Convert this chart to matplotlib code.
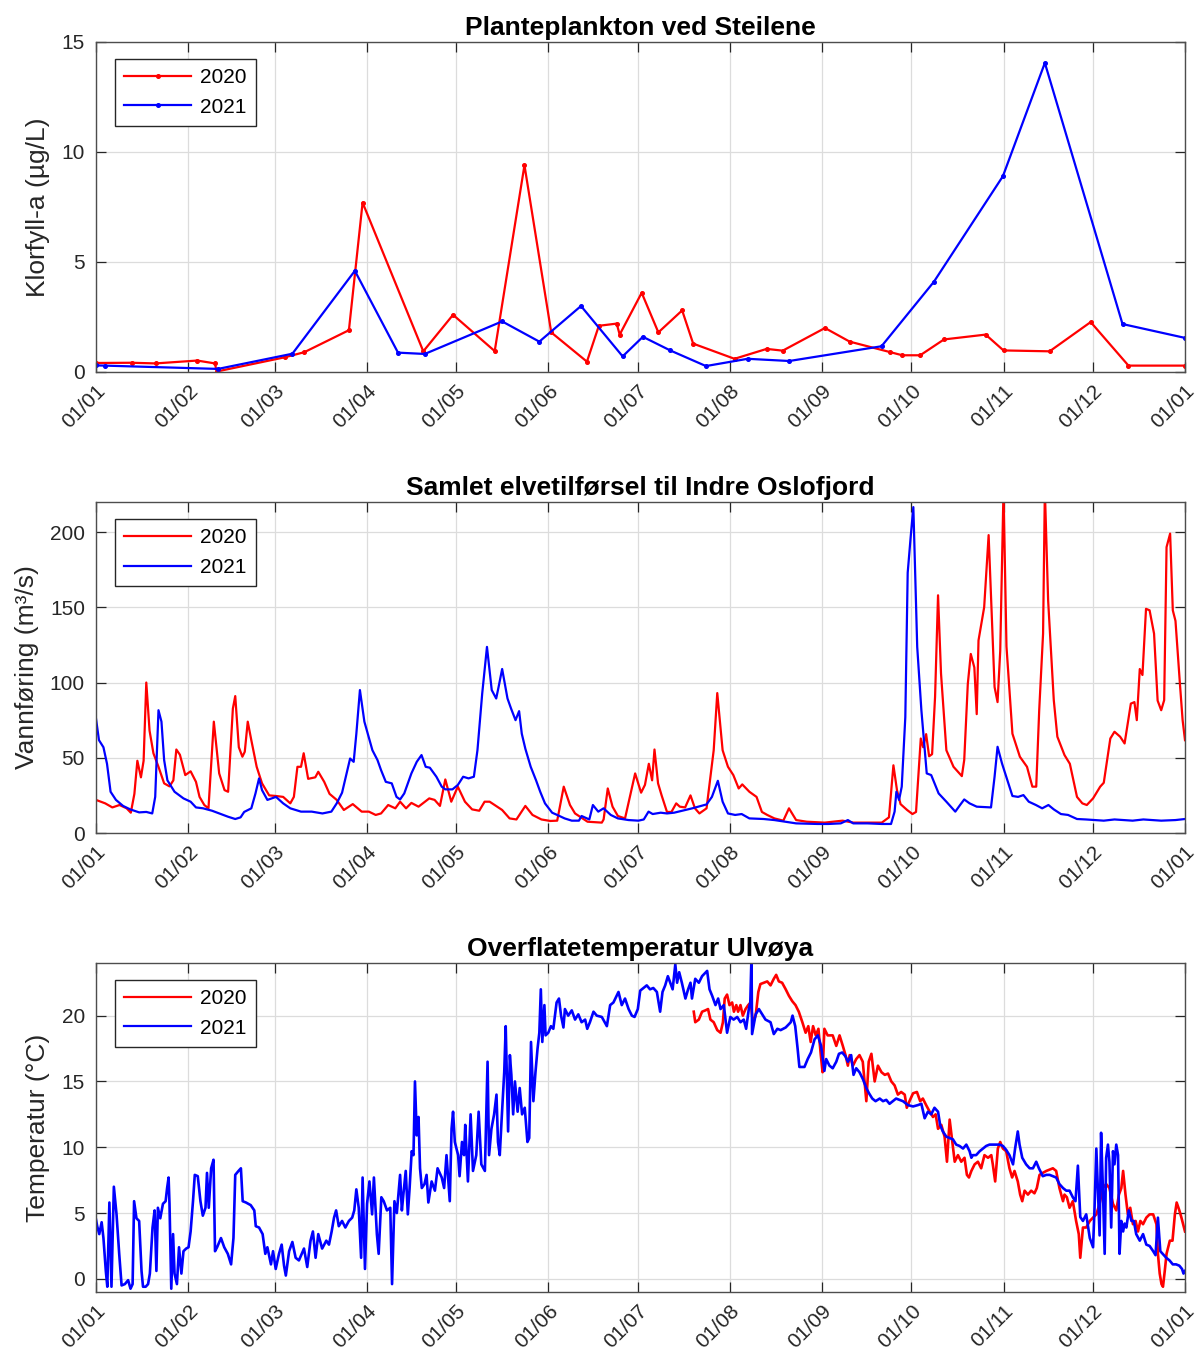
import numpy as np
import pandas as pd
import matplotlib
matplotlib.use("Agg")
import matplotlib.pyplot as plt

plt.rcParams['font.family'] = ['Liberation Sans', 'DejaVu Sans']

# ---------------------------------------------------------------
# Data: x values are days after 1 January, y values per panel
# ---------------------------------------------------------------
years = ['2020', '2021']

# Klorofyll-a, Steilene (µg/L)
chl_2020_day = [0, 12, 20, 34, 40, 40.5, 63.5, 70, 85, 89.6, 110, 120, 134, 144,
                153, 165, 169, 175, 176, 183.4, 189, 197, 200.7, 214.6, 225.4,
                230.8, 245, 253.3, 267, 271, 277, 285, 299, 305, 320.5, 334.3,
                347, 366]
chl_2020 = [0.41, 0.42, 0.39, 0.52, 0.39, 0.02, 0.67, 0.9, 1.9, 7.7, 0.94, 2.6,
            0.95, 9.4, 1.8, 0.47, 2.1, 2.2, 1.7, 3.6, 1.8, 2.8, 1.29, 0.6, 1.05,
            0.97, 2.0, 1.38, 0.9, 0.76, 0.76, 1.48, 1.7, 0.98, 0.94, 2.27,
            0.29, 0.29]
chl_2021_day = [0, 3, 41, 66, 87, 101.5, 110.5, 136.5, 149, 163, 177, 183.8, 193,
                205, 219, 233, 264, 281.6, 304.8, 318.9, 345, 366]
chl_2021 = [0.3, 0.29, 0.14, 0.83, 4.6, 0.88, 0.82, 2.3, 1.38, 3.0, 0.71, 1.6,
            0.98, 0.27, 0.6, 0.5, 1.17, 4.1, 8.9, 14.05, 2.18, 1.55]

# Samlet elvetilførsel (m³/s)
flow_2020_day = [0, 3.1, 5.5, 7.9, 10.3, 11.7, 12.9, 13.9, 15.1, 16, 16.9, 18, 19.3,
                 21, 22.9, 24.7, 26, 27, 28.2, 30, 31.8, 33.6, 34.8, 36.4, 37.8,
                 39.6, 41.4, 43.2, 44.4, 46, 46.8, 48, 49.2, 50, 51, 52.2, 54,
                 55.8, 58.2, 60.5, 62.9, 65.3, 66.5, 67.7, 68.9, 69.8, 71.3, 73.7,
                 74.7, 76.7, 78.5, 80.9, 83.3, 86.3, 89.3, 91.7, 94, 95.8, 98.2,
                 100.6, 102.2, 104.2, 106, 108.4, 112, 113.8, 115.6, 117.4, 119.4,
                 121.6, 124, 126.4, 128.8, 130.6, 132.3, 136.5, 139, 141.3, 144.3,
                 146.7, 149.7, 152.7, 155, 157.2, 159.3, 161, 163.5, 165.2, 170,
                 170.6, 172, 173.6, 175.4, 177.8, 181.2, 183.2, 184.5, 185.8,
                 186.9, 187.7, 188.9, 190.1, 191.9, 193.4, 195, 196.2, 198, 199.8,
                 201.3, 202.8, 205.2, 207.6, 208.8, 210.6, 212.4, 214.2, 216,
                 217.2, 219.6, 222, 223.8, 225.6, 228, 231, 232.9, 235.3, 238.9,
                 244.9, 250.9, 254.5, 264.1, 266.5, 268, 269.2, 270.4, 272.6,
                 274.4, 275.6, 277.2, 278, 279, 280, 281, 282, 283, 284, 285.8,
                 288.2, 291, 291.8, 293, 294, 295.2, 296, 296.6, 298.5, 300, 301.3,
                 302, 303, 303.9, 305, 306, 308, 310.5, 312.9, 314.7, 316, 317,
                 318.3, 318.9, 320, 321.9, 323.1, 325.5, 327.3, 329.7, 331.5, 333,
                 335.1, 337.5, 338.7, 340.9, 342.3, 344.2, 345.7, 347.8, 349,
                 349.8, 350.8, 351.7, 352.9, 354.1, 355.6, 356.8, 358, 359, 359.8,
                 361, 361.9, 362.8, 364.3, 365.2, 366]
flow_2020 = [22, 19.7, 17, 18.6, 16.4, 13.5, 26, 48, 37, 48, 100, 68, 53, 44, 33,
             31, 35, 55.5, 52, 38.5, 41, 34, 24, 18.6, 16.4, 74, 39.6, 28.5, 27.4,
             82.7, 91, 57, 50.7, 54, 74, 61.7, 44, 33, 25, 24.6, 24, 19.7, 24, 44,
             44, 53, 36, 37, 40.7, 34, 26, 22, 15.3, 19.2, 14.2, 14.2, 12, 13,
             18.6, 16.4, 20.8, 16.4, 20, 17.5, 23, 22, 18, 35.6, 20.8, 30.8, 20.8,
             15.7, 14.8, 20.8, 20.8, 15.3, 9.7, 9, 18, 12, 9, 8, 8.2, 30.8, 18.6,
             13, 9.7, 7.5, 6.9, 9, 29.6, 17.5, 11.3, 9.7, 39.6, 26.8, 32, 46, 35,
             55.5, 33, 25, 14, 14, 19.7, 17.5, 17, 25, 16.4, 13, 16.4, 55, 93, 55,
             44, 38.5, 29.6, 32.3, 27.4, 24, 14, 12, 9.7, 8.2, 16.4, 8.6, 7.5, 6.9,
             8.2, 6.9, 6.9, 10.4, 45, 28.5, 19.2, 15.3, 12.6, 14, 62.8, 57, 65.7,
             51, 52.4, 90.5, 158, 106, 55, 44, 37.8, 48.5, 99, 119, 110, 79, 128,
             150, 198, 132.5, 97, 87, 121, 228, 124, 66, 50.7, 44, 30.8, 30.8,
             81.6, 132.5, 228, 154.6, 88.3, 64, 51.8, 46, 24, 19.7, 18.6, 23, 30.8,
             33.4, 62.8, 67.3, 64, 59.5, 86, 87, 75, 109, 105, 149, 148, 132.5, 88,
             81.6, 88.3, 190, 199, 148, 141, 99, 75, 61.7]
flow_2021_day = [0, 1, 2.5, 3.7, 4.9, 6.7, 9.1, 11.5, 14.5, 16.9, 18.9, 19.9, 21, 22,
                 22.9, 24, 26.4, 29.4, 31.8, 33.6, 36, 39, 42, 44.4, 46.8, 48.6,
                 49.8, 52.2, 53.6, 54.8, 55.8, 57.6, 60.5, 62.9, 65.3, 68.9, 72.5,
                 76.1, 79.1, 80.9, 82.7, 84.5, 85.4, 86.6, 87.5, 88.7, 90.2, 92.9,
                 94.6, 95.8, 97.4, 99.4, 101, 102.2, 103.6, 106, 107.8, 109.4,
                 110.8, 112.2, 114.4, 116.2, 117.4, 119.8, 121.6, 123.4, 125.2, 127,
                 128.2, 129.8, 131.4, 133, 134.5, 135.3, 136.5, 138.3, 139.5, 141,
                 142.2, 143.1, 144.3, 146.1, 147.9, 149.3, 150.9, 153.3, 155, 157.5,
                 159.9, 162.3, 163.2, 165.8, 167, 168.8, 170.6, 173, 175.4, 179,
                 182.3, 184.1, 185.7, 187.1, 189.8, 191.9, 194.3, 200.4, 205.2, 207,
                 209, 210.6, 212.4, 214.8, 217, 219.6, 224.4, 228, 231.6, 235.3,
                 242.5, 246.1, 250.3, 252.7, 254.5, 259.3, 264.1, 267.2, 268.4, 269,
                 269.9, 270.8, 272, 272.8, 273.8, 274.7, 276, 277.4, 279.2, 280.7,
                 283.2, 285.8, 288.8, 290.4, 291.8, 293.6, 296, 300.8, 302, 303,
                 304.5, 306.3, 308, 309.9, 311.7, 313.5, 315.9, 318, 320.1, 321.9,
                 324.3, 326.7, 329.7, 332.7, 338.7, 342.3, 348.4, 352, 358, 362.8, 366]
flow_2021 = [76, 61.7, 57, 46, 27.4, 22, 18, 15.7, 13.7, 14, 13, 24, 81.6, 74,
             48.5, 35, 27.4, 23, 20.8, 17, 16.4, 14.8, 12.6, 10.8, 9.3, 10.4, 14,
             16.4, 26.3, 36.3, 28.5, 22, 24, 19.7, 16.4, 14.2, 14.2, 13, 14.2,
             19.7, 26.8, 41.8, 49.5, 47.3, 66, 95, 74, 55, 48.5, 41.8, 34, 33, 24,
             22.3, 26.3, 39.6, 47.3, 51.8, 44, 43.4, 37.4, 30.8, 29, 29, 31.9,
             37.4, 36.3, 37.4, 55, 92.7, 123.7, 95, 89.4, 97, 109, 89.4, 82.7, 75,
             81, 66, 56, 44, 35, 27.4, 19.7, 13.5, 12, 9.7, 8.2, 8.2, 11.3, 9,
             18.6, 14.2, 16.4, 12, 9.7, 8.6, 8.2, 9, 14.2, 12.6, 13.5, 13, 13.5,
             16.4, 19, 24, 34.7, 20.8, 13, 12, 12.6, 9.7, 9.3, 8.6, 7.5, 6.4, 6,
             6, 6.4, 8.6, 6.4, 6.4, 6, 6, 14.2, 27.4, 22, 30.8, 77, 173, 196.7,
             216.6, 123.7, 81.6, 39.6, 38.5, 26.3, 20.8, 14.2, 18.6, 22.3, 19.7,
             17.5, 17, 37.4, 57.3, 46.2, 35, 24.6, 24, 25.2, 20.8, 18.6, 16.4,
             18.6, 15.7, 12.6, 12, 9.3, 9, 8.2, 9, 8.2, 9, 8.2, 8.6, 9.3]

# Overflatetemperatur Ulvøya (°C)
temp_2020_day = [200.9, 201.4, 202.6, 203.7, 204.8, 205.7, 206.5, 207.6, 208.8,
                 209.9, 210.7, 211.3, 212.1, 212.9, 213.8, 214.4, 215.2, 215.8,
                 216.6, 217.4, 218.3, 219.2, 220, 220.8, 221.7, 222.6, 223.3,
                 224.5, 225.6, 226.7, 227.8, 228.6, 229.5, 230.6, 231.8, 232.9,
                 234, 235.1, 236.2, 237.4, 238.5, 239.4, 240.2, 241, 241.9, 242.8,
                 243.6, 244.2, 244.8, 245.9, 247.6, 248.8, 249.9, 251, 251.9,
                 252.7, 253.3, 254.4, 255.5, 256.6, 257.7, 258.9, 259.7, 260.6,
                 261.7, 262.8, 264, 265.1, 266.2, 267.3, 268.4, 269.5, 270.6,
                 271.8, 272.5, 273.4, 274.6, 275.9, 277, 277.9, 279, 280.2, 281.3,
                 282.2, 283, 284.1, 285.2, 286, 286.9, 287.8, 288.6, 289.7, 290.8,
                 291.9, 292.7, 293.4, 294.2, 295.3, 296.4, 297.5, 298.6, 299.8,
                 300.9, 301.4, 302.2, 303.1, 303.9, 304.8, 305.9, 307, 307.9,
                 308.7, 309.8, 310.6, 311.3, 312.1, 313.2, 314.3, 315.4, 316.2,
                 317.1, 318.2, 319.4, 320.5, 321.6, 322.7, 323.8, 325, 325.5,
                 326.3, 327.2, 328.3, 329.4, 330.3, 330.8, 331.7, 332.8, 334,
                 335.1, 336.2, 337.3, 338.4, 339.5, 340.6, 341.8, 342.9, 343.8,
                 344.6, 345.2, 346, 346.8, 347.6, 348.5, 349.4, 350.2, 351, 351.9,
                 353, 354.1, 355.3, 356.4, 356.9, 357.5, 358.1, 358.6, 359.2,
                 359.8, 360.9, 361.8, 362.6, 363.2, 364.1, 364.8, 366]
temp_2020 = [20.3, 19.5, 19.7, 20.3, 20.4, 20.5, 19.7, 19.5, 18.9, 18.7, 19.5,
             21.3, 21.6, 20.8, 21, 20.3, 20.8, 20.3, 20.8, 20, 20.5, 20.8, 21,
             19.5, 20, 21.8, 22.4, 22.5, 22.6, 22.3, 22.8, 23.1, 22.6, 22.5, 22,
             21.5, 21.1, 20.8, 20.3, 19.5, 18.7, 19.2, 18, 19.2, 18.5, 19, 17,
             15.7, 19, 18.5, 18.5, 17.7, 18.5, 17.7, 17, 16.2, 17, 16.2, 16.7, 17,
             16.5, 13.5, 16.5, 17.1, 15, 16.2, 15.7, 15.5, 15.6, 15, 14.7, 14,
             14.2, 14, 13, 13.5, 14.1, 14.2, 13.5, 13.7, 13.2, 12.7, 12.3, 12.5,
             11.4, 11.7, 10.8, 8.9, 12.1, 10.4, 8.9, 9.4, 8.9, 9.2, 7.9, 7.7, 8.2,
             8.7, 8.9, 8.4, 9.4, 9.2, 9.4, 8.7, 7.4, 9.9, 10.4, 9.9, 9.7, 8.4, 7.7,
             8.2, 7.4, 6.4, 5.9, 6.7, 6.4, 6.7, 6.5, 6.9, 7.9, 8.05, 8.2, 8.3, 8.4,
             8.2, 6.9, 5.9, 6.4, 6.2, 5.4, 5.9, 4.4, 3.4, 1.6, 3.9, 3.9, 4.4, 4.65,
             4.9, 5.7, 6.9, 7.2, 6.9, 5.7, 5.2, 6.4, 6.9, 8.2, 6.4, 4.9, 5.4, 4.15,
             4.4, 3.6, 4.4, 4.15, 4.65, 4.9, 4.9, 4.15, 1.9, 0.4, -0.4, -0.6, 0.6,
             1.9, 2.9, 2.9, 4.9, 5.8, 5.2, 4.65, 3.6]
temp_2021_day = [0, 0.4, 1.1, 1.9, 2.5, 3.3, 3.8, 4.5, 5.2, 6, 6.9, 7.8, 8.6, 9.7,
                 10.8, 11.6, 12.3, 12.8, 13.6, 14.5, 15.3, 15.8, 16.7, 17.5, 18.1,
                 19, 19.7, 20.3, 20.8, 21.6, 22.5, 23.4, 23.9, 24.4, 24.7, 25.3,
                 25.9, 26.4, 27.2, 27.9, 28.7, 29.4, 30.3, 31.1, 31.8, 32.6, 33.2,
                 34.2, 35.1, 35.9, 36.8, 37.3, 37.9, 38.7, 39.5, 40, 40.7, 42,
                 43.1, 44.3, 45.4, 46.2, 46.8, 47.9, 48.7, 49.3, 50.4, 52, 53.2,
                 53.7, 54.8, 56, 56.9, 57.6, 58.8, 59.5, 60.4, 61.5, 62.4, 63.2,
                 63.8, 64.9, 66, 67.1, 68.2, 69.9, 71, 72.1, 72.9, 73.8, 74.7, 76,
                 77.4, 78.3, 79.2, 80, 80.7, 81.6, 82.7, 83.8, 85, 86.1, 86.8,
                 87.5, 88.3, 89.1, 89.6, 90.4, 91.1, 91.9, 92.8, 93.4, 94.4, 95,
                 95.9, 96.7, 97.8, 98.9, 99.5, 100.3, 101.1, 102.2, 102.8, 103.3,
                 104.1, 104.8, 105.4, 106.1, 106.7, 107.2, 107.8, 108.4, 108.9,
                 109.5, 110.4, 111.1, 111.7, 112.8, 113.9, 114.8, 116.2, 117,
                 117.8, 118.9, 119.5, 120, 120.6, 121.7, 122.2, 123, 123.7, 124.1,
                 125, 125.9, 126.7, 127.8, 128.6, 129.5, 130.7, 131.6, 132.1,
                 132.9, 133.8, 134.6, 135.1, 135.7, 136.3, 137.2, 137.7, 138.5,
                 139.1, 139.6, 140.2, 140.8, 141.7, 142.4, 143.2, 144.1, 145,
                 145.6, 146.2, 147, 147.7, 148.4, 149, 149.5, 150, 150.7, 151.1,
                 152, 152.9, 153.7, 154.8, 155.6, 156.3, 157.1, 157.6, 158.7,
                 159.9, 161, 162.1, 163.2, 164.4, 165.1, 166, 167.2, 168.3, 170,
                 171.7, 172.8, 173.9, 175.6, 176.7, 177.8, 179, 180.1, 181, 182.1,
                 182.9, 184, 185.1, 186.2, 187.3, 188.5, 189.6, 190.4, 191.3,
                 192.2, 193, 193.8, 194.7, 195.3, 196, 196.9, 198.1, 199, 199.8,
                 200.3, 201.4, 202.6, 203.7, 205.4, 206.2, 207.1, 208.2, 209.1,
                 209.9, 211, 212.1, 213.2, 214.3, 215.5, 216.6, 217.7, 218.5,
                 219.4, 219.9, 220.3, 220.5, 221.7, 222.8, 223.9, 225, 226.7,
                 227.8, 229, 230.1, 231.8, 233.5, 234.1, 235, 235.8, 236.4, 238.1,
                 239.2, 240.3, 241.5, 242.6, 243.7, 244.8, 245.4, 246.5, 247.6,
                 248.8, 249.7, 250.8, 251.9, 252.7, 253.8, 254.6, 255.5, 256.6,
                 257.7, 258.9, 259.8, 260.9, 262, 263.4, 264.5, 265.6, 266.7,
                 267.8, 268.9, 270, 271.2, 272.9, 274.6, 276.2, 277.4, 278.5,
                 279.6, 280.7, 281.8, 283, 283.7, 284.6, 285.8, 286.9, 288, 289.1,
                 290.2, 291.4, 292.5, 293.6, 294.2, 294.7, 295.8, 297, 298.1,
                 299.2, 300.3, 302, 303.7, 304.8, 305.9, 307, 308.2, 308.9, 309.8,
                 310.4, 311.3, 312.6, 313.8, 314.9, 316, 316.9, 318.2, 319.4,
                 320.5, 321.6, 322.7, 323.8, 325, 326.1, 327.2, 328.3, 329.2, 330,
                 330.8, 331.7, 332.8, 334, 335.1, 335.6, 336.2, 336.7, 337.3,
                 337.8, 338.4, 339, 339.5, 340.1, 340.6, 341.2, 341.8, 342.3,
                 342.9, 343.5, 344, 344.6, 345.2, 345.7, 346.3, 347.1, 348, 348.8,
                 349.6, 350.8, 351.9, 353, 354.1, 355.3, 356.1, 356.9, 357.7,
                 358.5, 359.7, 360.8, 361.9, 363, 364.1, 365, 365.5, 366]
temp_2021 = [4.5, 4.0, 3.4, 4.3, 3.1, 0.6, -0.6, 5.8, -0.6, 7.0, 4.9, 1.9, -0.5,
             -0.4, -0.1, -0.75, -0.4, 5.9, 4.6, 4.4, 0.6, -0.6, -0.6, -0.4, 0.4,
             3.9, 5.2, 0.6, 5.4, 4.6, 5.7, 5.9, 6.9, 7.7, 5.7, -0.75, 3.4, 0.4,
             -0.4, 2.4, 0.4, 2.1, 2.3, 2.4, 3.6, 5.9, 7.9, 7.8, 5.9, 4.8, 5.4,
             8.05, 5.4, 8.4, 9.05, 2.1, 2.4, 3.1, 2.4, 1.9, 1.1, 3.1, 7.9, 8.2,
             8.4, 5.9, 5.8, 5.6, 5.2, 4.0, 3.9, 3.4, 1.9, 2.4, 1.1, 2.1, 0.75, 1.9,
             2.6, 1.0, 0.25, 2.1, 2.8, 1.6, 1.4, 2.3, 0.9, 2.9, 3.6, 1.6, 3.4, 2.3,
             2.9, 2.6, 3.6, 4.65, 5.2, 4.0, 4.4, 3.9, 4.4, 4.65, 5.2, 6.8, 5.4,
             1.6, 7.7, 0.75, 5.7, 7.4, 4.9, 7.7, 3.4, 1.9, 6.2, 5.9, 5.2, 5.4,
             -0.4, 5.9, 5.0, 7.9, 5.2, 6.4, 8.2, 4.9, 6.9, 9.7, 9.4, 15, 10.9,
             12.3, 8.4, 6.9, 7.2, 7.9, 5.8, 7.4, 6.7, 8.4, 7.7, 6.9, 9.4, 5.9,
             11.4, 12.7, 10.4, 9.4, 7.8, 10.4, 9.4, 11.7, 7.4, 12.5, 8.2, 9.4,
             12.7, 8.7, 8.2, 16.5, 9.4, 11.4, 12.5, 14, 10.4, 9.4, 12, 15.7, 19.2,
             11.2, 17, 15.5, 12.5, 15, 12.7, 14.5, 12.5, 13, 10.4, 10.7, 18, 13.5,
             15.7, 17.5, 18.7, 22, 18, 20.8, 18.5, 18.7, 19.2, 19, 21, 21.3, 20,
             19.1, 20.5, 20, 20.4, 19.7, 20.1, 19.5, 19.7, 19, 19.5, 20.3, 20,
             19.9, 19.2, 20.8, 21, 21.8, 20.8, 21.3, 20.5, 20, 19.9, 20.5, 21.9,
             22.1, 22.3, 22, 22.1, 21.8, 20.3, 21.8, 22.3, 23, 22.5, 22, 23.9,
             22.5, 23.3, 22.5, 21.3, 22, 22.5, 21.3, 22.8, 22.5, 23, 23.4, 22,
             21.5, 20.8, 21.3, 20.5, 20.8, 18.7, 19.9, 19.7, 19.9, 19.5, 19.7,
             19, 20.5, 21, 24.5, 18.6, 20.1, 20.5, 20.1, 19.7, 19.5, 18.6, 19,
             18.9, 19.1, 19.5, 20, 19.2, 17.5, 16.1, 16.1, 16.7, 17.2, 18.2,
             18.5, 17.7, 15.8, 16.7, 16.2, 16, 16.5, 17.1, 17.2, 16.9, 16.5, 17,
             15.5, 16, 15.7, 15.2, 14.5, 14.1, 13.7, 13.5, 13.7, 13.5, 13.6,
             13.3, 13.5, 13.7, 13.6, 13.5, 13.2, 13.1, 13.2, 13.3, 12.2, 12.7,
             12.5, 13, 12.7, 11.7, 11.2, 10.8, 10.7, 10.6, 10.2, 10.1, 9.9, 10.2,
             9.7, 9.2, 9.4, 9.4, 9.7, 9.9, 10.1, 10.2, 10.2, 10.2, 10.1, 9.8, 9.4,
             8.7, 9.9, 11.2, 10.2, 9.2, 8.7, 8.4, 8.4, 8.9, 8.4, 7.8, 7.9, 7.9,
             7.8, 7.7, 7.2, 6.9, 6.7, 6.7, 6.2, 5.9, 8.6, 4.7, 4.4, 4.9, 3.1, 2.4,
             5.4, 9.9, 6.9, 3.3, 11.1, 6.9, 1.9, 9.2, 10.2, 8.9, 3.9, 9.7, 8.7,
             10.2, 9.4, 1.9, 4.4, 3.6, 4.2, 3.9, 5.2, 4.4, 4.4, 3.4, 2.9, 3.4,
             2.6, 2.5, 2.1, 1.8, 4.65, 2.1, 1.9, 1.6, 1.4, 1.1, 1.1, 1.0, 0.75,
             0.4, 0.6]

# Month starts for the x axis (leap year grid, labels as day/month)
month_starts = pd.date_range('2020-01-01', '2021-01-01', freq='MS')
month_days = [(d - month_starts[0]).days for d in month_starts]
month_labels = [d.strftime('%d/%m') for d in month_starts]

titles = ['Planteplankton ved Steilene',
          'Samlet elvetilførsel til Indre Oslofjord',
          'Overflatetemperatur Ulvøya']
ylabels = ['Klorfyll-a (µg/L)', 'Vannføring (m³/s)', 'Temperatur (°C)']
ylims = [(0, 15), (0, 220), (-1, 24)]
yticks = [[0, 5, 10, 15], [0, 50, 100, 150, 200], [0, 5, 10, 15, 20]]

series = [
    ((chl_2020_day, chl_2020), (chl_2021_day, chl_2021)),
    ((flow_2020_day, flow_2020), (flow_2021_day, flow_2021)),
    ((temp_2020_day, temp_2020), (temp_2021_day, temp_2021)),
]

# ---------------------------------------------------------------
W, H = 1201, 1365
fig = plt.figure(figsize=(W / 100, H / 100), dpi=100)
frames = [(42, 372), (502, 833), (963, 1292)]
left, right = 96, 1185
axis_col = '#262626'
colors = ['#ff0000', '#0000ff']
line_widths = [1.6, 1.6, 1.9]

for i, (top, bottom) in enumerate(frames):
    ax = fig.add_axes([left / W, 1 - bottom / H, (right - left) / W, (bottom - top) / H])
    for (xd, yd), col, lab in zip(series[i], colors, years):
        if i == 0:
            ax.plot(xd, yd, '-', color=col, lw=line_widths[i], marker='o', ms=2.6,
                    label=lab)
        else:
            ax.plot(xd, yd, '-', color=col, lw=line_widths[i], label=lab)
    ax.set_xlim(0, 366)
    ax.set_ylim(*ylims[i])
    ax.set_xticks(month_days)
    ax.set_xticklabels(month_labels, rotation=45, ha='right', va='top',
                       rotation_mode='anchor')
    ax.set_yticks(yticks[i])
    ax.grid(True, color='#dcdcdc', lw=0.9)
    ax.set_axisbelow(True)
    ax.tick_params(direction='in', length=7, width=0.9, top=True, right=True,
                   labelsize=15, color=axis_col, labelcolor=axis_col)
    ax.tick_params(axis='x', pad=7)
    ax.tick_params(axis='y', pad=8)
    for s in ax.spines.values():
        s.set_color('#4d4d4d')
        s.set_linewidth(1.0)
    ax.set_title(titles[i], fontsize=19, fontweight='bold', pad=5, color='black')
    ax.set_ylabel(ylabels[i], fontsize=19, labelpad=8, color=axis_col)
    leg = ax.legend(loc='upper left', bbox_to_anchor=(19 / 1089, 1 - 17 / 330),
                    borderaxespad=0, fontsize=15, handlelength=3.2,
                    handletextpad=0.45, labelspacing=0.5, borderpad=0.45,
                    numpoints=1, fancybox=False, framealpha=1, edgecolor=axis_col)
    for h in leg.get_lines():
        h.set_linewidth(1.6)
    leg.get_frame().set_linewidth(1.0)

fig.savefig('out.png', dpi=100)
